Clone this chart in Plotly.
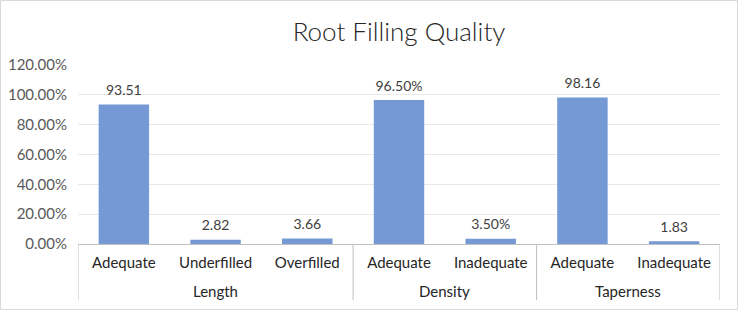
import plotly.graph_objects as go

groups = ["Length", "Length", "Length", "Density", "Density", "Taperness", "Taperness"]
categories = ["Adequate", "Underfilled", "Overfilled", "Adequate", "Inadequate", "Adequate", "Inadequate"]
values = [0.9351, 0.0282, 0.0366, 0.9650, 0.0350, 0.9816, 0.0183]
labels = ["93.51", "2.82", "3.66", "96.50%", "3.50%", "98.16", "1.83"]
yticks = [0, 0.2, 0.4, 0.6, 0.8, 1.0, 1.2]
ytick_text = ["0.00%", "20.00%", "40.00%", "60.00%", "80.00%", "100.00%", "120.00%"]

keys = [f"{g}|{c}" for g, c in zip(groups, categories)]

W, H = 738, 310
L, R, T, B = 78, 18, 65, 66
pw, ph = W - L - R, H - T - B

font = "Lato, 'Open Sans', sans-serif"

fig = go.Figure()
fig.add_trace(go.Bar(
    x=keys, y=values,
    marker=dict(color="#7499D4", line=dict(width=0)),
    width=0.55, hoverinfo="x+y",
))
fig.add_trace(go.Scatter(
    x=keys, y=values, text=labels,
    mode="markers+text", textposition="top center",
    marker=dict(size=8, opacity=0),
    textfont=dict(family=font, size=14, color="#404040"),
    cliponaxis=False, hoverinfo="skip",
))

# group spans (indices) derived from groups list
spans = []
start = 0
for i in range(1, len(groups) + 1):
    if i == len(groups) or groups[i] != groups[start]:
        spans.append((groups[start], start, i - 1))
        start = i

div_bottom = -(300 - 244) / ph
for name, a, b in spans:
    fig.add_annotation(x=(a + b) / 2, xref="x", y=-(291 - 244) / ph, yref="paper",
                       text=name, showarrow=False, yanchor="middle",
                       font=dict(family=font, size=15, color="#262626"))
bounds = [spans[0][1] - 0.5] + [b + 0.5 for _, _, b in spans]
for xb in bounds:
    fig.add_shape(type="line", xref="x", yref="paper", x0=xb, x1=xb, y0=0, y1=div_bottom,
                  line=dict(color="#bfbfbf", width=1))

fig.update_layout(
    width=W, height=H,
    margin=dict(l=L, r=R, t=T, b=B, autoexpand=False),
    paper_bgcolor="white", plot_bgcolor="white",
    showlegend=False,
    title=dict(text="Root Filling Quality", x=0.5, xref="paper", xanchor="center",
               y=1 - 32 / H, yanchor="middle",
               font=dict(family=font, size=26, color="#262626", weight=300)),
    font=dict(family=font, size=14, color="#595959"),
)
fig.update_yaxes(range=[0, 1.2], tickvals=yticks, ticktext=ytick_text,
                 showgrid=True, gridcolor="#e8e8e8", gridwidth=1,
                 zeroline=False, showline=False, ticks="",
                 ticklabelstandoff=10,
                 tickfont=dict(family=font, size=15, color="#595959"))
fig.update_xaxes(type="category", tickvals=keys, ticktext=categories,
                 range=[-0.5, len(keys) - 0.5],
                 showline=True, linecolor="#bfbfbf", linewidth=1,
                 ticks="", showgrid=False, ticklabelstandoff=5,
                 tickfont=dict(family=font, size=15, color="#262626"))

fig.add_shape(type="rect", xref="paper", yref="paper",
              x0=-(L - 0.5) / pw, x1=1 + (R - 0.5) / pw,
              y0=-(B - 0.5) / ph, y1=1 + (T - 0.5) / ph,
              line=dict(color="#d9d9d9", width=1), layer="below")

fig.write_html("out.html", config={"displayModeBar": False},
               post_script="document.body.style.margin='0';")
